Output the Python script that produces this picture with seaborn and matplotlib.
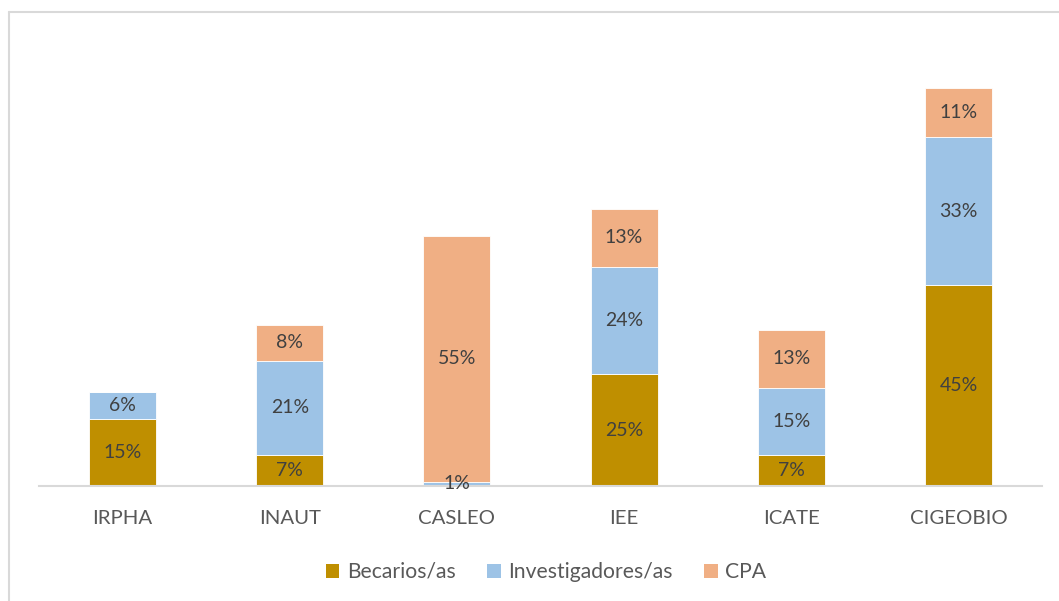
import numpy as np
import pandas as pd
import seaborn as sns
import matplotlib.pyplot as plt
from matplotlib.lines import Line2D
from matplotlib.patches import Patch

# datos
institutos = ['IRPHA', 'INAUT', 'CASLEO', 'IEE', 'ICATE', 'CIGEOBIO']
becarios = [15, 7, 0, 25, 7, 45]
investigadores = [6, 21, 1, 24, 15, 33]
cpa = [0, 8, 55, 13, 13, 11]
series = ['Becarios/as', 'Investigadores/as', 'CPA']
colores = ['#BF8F00', '#9DC3E6', '#F0AF84']

sns.set_style('white')
plt.rcParams['font.family'] = ['Lato', 'DejaVu Sans']

fig = plt.figure(figsize=(10.59, 6.01), dpi=100)
ax = fig.add_axes([39 / 1059, 1 - 486 / 601, (1042 - 39) / 1059, 447 / 601])

df = pd.DataFrame({'Instituto': institutos, 'Becarios/as': becarios,
                   'Investigadores/as': investigadores, 'CPA': cpa})

base = np.zeros(len(institutos))
for serie, color in zip(series, colores):
    vals = df[serie].values
    sns.barplot(data=df, x='Instituto', y=serie, order=institutos, color=color,
                width=0.4, bottom=base, ax=ax, saturation=1,
                edgecolor='white', linewidth=0.6)
    for i, v in enumerate(vals):
        if v > 0:
            ax.text(i, base[i] + v / 2, f'{v}%', ha='center', va='center',
                    fontsize=14, color='#404040')
    base = base + vals

ax.set_xlim(-0.5, 5.5)
ax.set_ylim(0, 100)
ax.set_xlabel('')
ax.set_ylabel('')
ax.set_yticks([])
ax.tick_params(axis='x', length=0, pad=17, labelsize=14.7, labelcolor='#595959')
for s in ['top', 'right', 'left']:
    ax.spines[s].set_visible(False)
ax.spines['bottom'].set_color('#D9D9D9')
ax.spines['bottom'].set_linewidth(1.5)

handles = [Patch(facecolor=c, edgecolor='none') for c in colores]
fig.legend(handles, series, loc='center', bbox_to_anchor=(546 / 1059, 1 - 572 / 601),
           ncol=3, frameon=False, fontsize=15.2, handlelength=0.65, handleheight=0.65,
           handletextpad=0.35, columnspacing=1.5, labelcolor='#595959')

# marco del gráfico
fig.add_artist(Line2D([9 / 1059, 1], [1 - 12 / 601] * 2, color='#D9D9D9', lw=1.5))
fig.add_artist(Line2D([9 / 1059] * 2, [0, 1 - 12 / 601], color='#D9D9D9', lw=1.5))

fig.savefig('out.png', dpi=100, facecolor='white')
